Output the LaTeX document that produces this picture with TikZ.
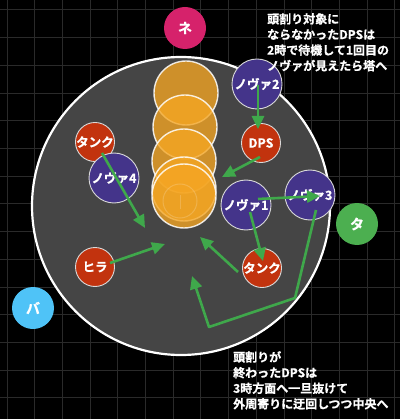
\documentclass[tikz,border=0pt]{standalone}
\usepackage{fontspec}
\newfontfamily\jp{Noto Sans CJK JP Bold}[FakeBold=0.8]
\usetikzlibrary{arrows.meta}
\definecolor{gridc}{HTML}{2A2A2A}
\definecolor{arenac}{HTML}{454545}
\definecolor{novac}{HTML}{44348A}
\definecolor{redc}{HTML}{C2330E}
\definecolor{towerc}{HTML}{F5A623}
\definecolor{arrowc}{HTML}{3FA84B}
\definecolor{pinkc}{HTML}{D6226B}
\definecolor{greenc}{HTML}{4CAF50}
\definecolor{bluec}{HTML}{4FC3F7}
\tikzset{
  player/.style={circle, draw=white!85!black, line width=0.9, text=white, inner sep=0,
    font=\jp\fontsize{12.5}{13}\selectfont},
  nova/.style={player, fill=novac, minimum size=50},
  role/.style={player, fill=redc, minimum size=39},
  marker/.style={circle, inner sep=0, minimum size=42, text=white, font=\jp\fontsize{14}{14}\selectfont},
  tower/.style={circle, inner sep=0, minimum size=64, fill=towerc, fill opacity=0.78,
    draw=white, draw opacity=0.85, line width=1.4},
  mv/.style={draw=arrowc, line width=2.6, -{Triangle[length=13,width=12]}},
  note/.style={anchor=north west, align=left, text=white, inner sep=0,
    font=\jp\fontsize{12}{15.6}\selectfont},
}
\begin{document}
\begin{tikzpicture}[x=1pt,y=-1pt]
\useasboundingbox (0,0) rectangle (400,419);
\fill[black] (0,0) rectangle (400,419);
\foreach \i in {0,...,14} {
  \draw[gridc, line width=1] ({7+27.7*\i},0) -- ({7+27.7*\i},419);
  \draw[gridc, line width=1] (0,{10+27.7*\i}) -- (400,{10+27.7*\i});
}
% arena
\node[circle, minimum size=298, inner sep=0, fill=arenac, draw=white, line width=2.2] (arena) at (181,206) {};
% markers
\node[marker, fill=pinkc] (ne) at (185,28) {ネ};
\node[marker, fill=greenc] (ta) at (357,224) {タ};
\node[marker, fill=bluec] (ba) at (33,308) {バ};
% towers
\node[tower] (t1) at (186,93) {};
\node[tower] (t2) at (185,127) {};
\node[tower] (t3) at (184,161) {};
\node[tower] (t4) at (184,189) {};
\node[tower] (t5) at (184,196) {};
\node[circle, minimum size=34, inner sep=0, draw=white, draw opacity=0.18, line width=1] (tsym) at (180,201) {};
\draw[white, opacity=0.18, line width=1] (tsym.center) ++(0,-6) -- ++(0,14);
% players
\node[role] (tankL) at (95,142) {タンク};
\node[nova] (nova4) at (114,178) {ノヴァ4};
\node[nova] (nova2) at (257,84) {ノヴァ2};
\node[role] (dps) at (261,143) {DPS};
\node[nova] (nova1) at (246,205) {ノヴァ1};
\node[nova] (nova3) at (310,195) {ノヴァ3};
\node[role] (hira) at (95,267) {ヒラ};
\node[role] (tankR) at (262,268) {タンク};
% arrow end points
\coordinate (eA) at (258,129);
\coordinate (eB) at (222,177);
\coordinate (eC) at (145,228);
\coordinate (eD) at (165,244);
\coordinate (eE) at (320,196);
\coordinate (eF) at (263,261);
\coordinate (eG) at (200,237);
\coordinate (k1) at (295,298);
\coordinate (k2) at (209,327);
\coordinate (eH) at (192,276);
% arrows
\draw[mv] (nova2.center) ++(1,1) -- (eA);
\draw[mv] (dps.center) ++(-1,14) -- (eB);
\draw[mv] (tankL.center) ++(7,11) -- (eC);
\draw[mv] (hira.center) ++(15,-4) -- (eD);
\draw[mv] (nova1.center) ++(12,-6) -- (eE);
\draw[mv] (nova1.center) ++(4,7) -- (eF);
\draw[mv] (tankR.center) ++(-24,4) -- (eG);
\draw[mv, line join=round] (nova3.center) ++(6,15) -- (k1) -- (k2) -- (eH);
% notes
\node[note] (n1) at (267,13) {頭割り対象に\\ならなかったDPSは\\2時で待機して1回目の\\ノヴァが見えたら塔へ};
\node[note] (n2) at (233,351) {頭割りが\\終わったDPSは\\3時方面へ一旦抜けて\\外周寄りに迂回しつつ中央へ};
\end{tikzpicture}
\end{document}
